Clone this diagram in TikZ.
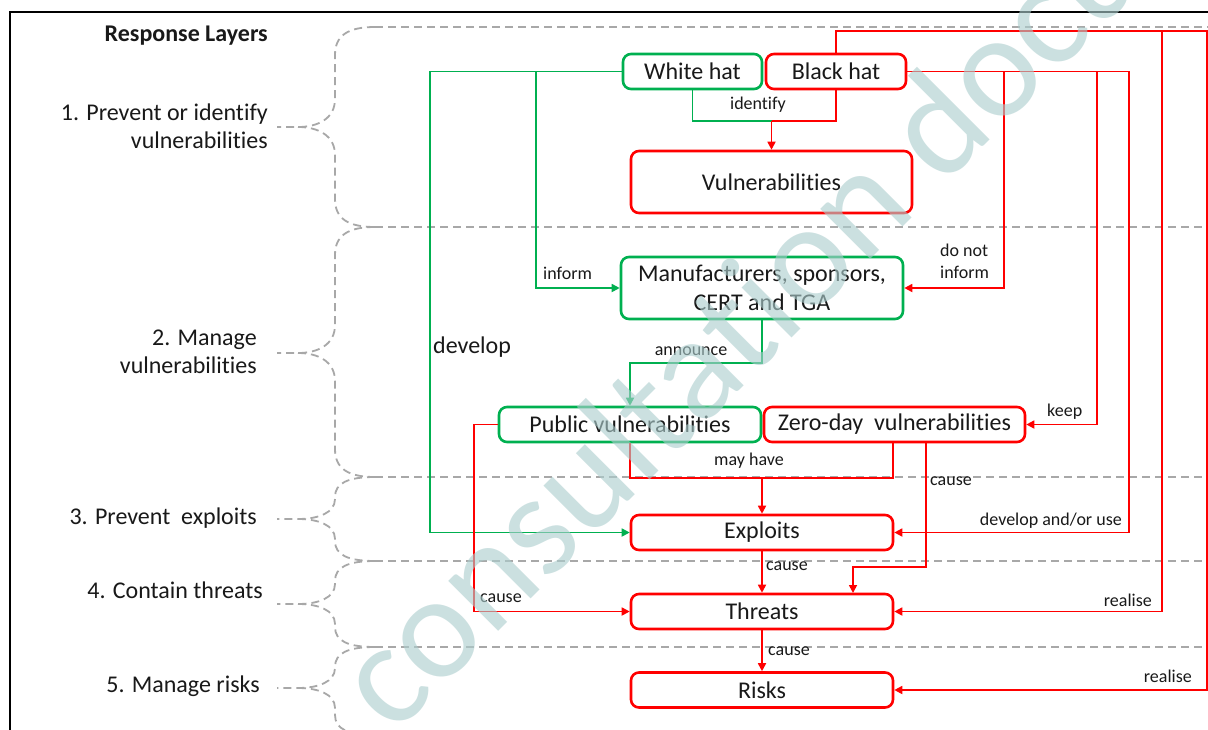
\documentclass[tikz,border=0pt]{standalone}
\usepackage{fontspec}
\setmainfont{Carlito}[Ligatures=NoCommon]
\usetikzlibrary{arrows.meta,calc}
\definecolor{gr}{RGB}{0,176,80}
\definecolor{rd}{RGB}{255,0,0}
\definecolor{dg}{RGB}{168,168,168}
\definecolor{wm}{RGB}{172,206,206}
\definecolor{tx}{RGB}{25,25,25}
\begin{document}
\begin{tikzpicture}[x=1pt,y=-1pt,
  box/.style={draw, line width=2.6pt, rounded corners=8pt, inner sep=0pt, align=center,
    font=\fontsize{24}{29}\selectfont, text=tx},
  gbox/.style={box, draw=gr},
  rbox/.style={box, draw=rd},
  gl/.style={draw=gr, line width=1.7pt},
  rl/.style={draw=rd, line width=1.7pt},
  arr/.style={-{Triangle[length=8pt,width=8pt]}},
  lab/.style={font=\fontsize{18}{22}\selectfont, inner sep=0pt, text=tx},
  side/.style={font=\fontsize{24}{28}\selectfont, align=right, inner sep=0pt, text=tx},
  sep/.style={draw=dg, line width=1.8pt, dash pattern=on 8pt off 5pt},
]
\clip (0,0) rectangle (1208,729);
\fill[white] (0,0) rectangle (1208,729);

% frame
\draw[line width=2.6pt, black] (10,735) -- (10,12) -- (1212,12);

% layer separators
\foreach \yy in {27,227,477,561,647} {
  \draw[sep] (375,\yy) -- (1210,\yy);
}
% braces
\foreach \ya/\ym/\yb/\r in {27/127/227/28, 227/353/477/28, 477/519/561/20, 561/604/647/20, 647/688/735/20} {
  \draw[sep] (375,\ya) .. controls (348,\ya) and (335,{\ya+\r*0.3}) .. (335,{\ya+\r})
     -- (335,{\ym-\r}) .. controls (335,{\ym-\r*0.3}) and (318,\ym) .. (298,\ym) -- (277,\ym);
  \draw[sep] (298,\ym) .. controls (318,\ym) and (335,{\ym+\r*0.3}) .. (335,{\ym+\r})
     -- (335,{\yb-\r}) .. controls (335,{\yb-\r*0.3}) and (348,\yb) .. (375,\yb);
}

% side labels
\node[side, anchor=east, font=\fontsize{24}{28}\selectfont\bfseries] (hd) at (268,36) {Response Layers};
\node[side, anchor=east] (l1) at (268,126) {1. Prevent or identify\\vulnerabilities};
\node[side, anchor=east] (l2) at (257,352) {2. Manage\\vulnerabilities};
\node[side, anchor=east] (l3) at (257,518) {3. Prevent\ \ exploits};
\node[side, anchor=east] (l4) at (263,590) {4. Contain threats};
\node[side, anchor=east] (l5) at (260,686) {5. Manage risks};

% boxes
\node[gbox, minimum width=139pt, minimum height=35pt] (wh) at (692.5,71.5) {White hat};
\node[rbox, minimum width=140pt, minimum height=35pt] (bh) at (836,71.5) {Black hat};
\node[rbox, minimum width=281pt, minimum height=62pt] (vu) at (771.5,182) {Vulnerabilities};
\node[gbox, minimum width=282pt, minimum height=62pt] (mf) at (762,288) {Manufacturers, sponsors,\\CERT and TGA};
\node[gbox, minimum width=262pt, minimum height=35pt] (pv) at (630,424.5) {Public vulnerabilities};
\node[rbox, minimum width=261pt, minimum height=35pt] (zd) at (894.5,424.5) {Zero-day\ \ vulnerabilities};
\node[rbox, minimum width=262pt, minimum height=35pt] (ex) at (762,532.5) {Exploits};
\node[rbox, minimum width=262pt, minimum height=35pt] (th) at (762,611.5) {Threats};
\node[rbox, minimum width=262pt, minimum height=35pt] (rk) at (762,690) {Risks};

% junction coordinates
\coordinate (gdev) at (430,71.5);
\coordinate (ginf) at (536,71.5);
\coordinate (idj) at (771.5,121);
\coordinate (anj) at (630,363);
\coordinate (rtop) at (1207,31);
\coordinate (rtop2) at (1162,31);
\coordinate (rdev) at (1129,71.5);
\coordinate (rnot) at (1004,71.5);
\coordinate (rkeep) at (1097,71.5);
\coordinate (mh1) at (893,478);
\coordinate (mh2) at (762,478);
\coordinate (zc1) at (926,443);
\coordinate (zc2) at (853,567);
\coordinate (zc3) at (853,593);

% green connectors
\draw[gl,arr] (wh.west) -- (gdev) |- (ex.west);
\draw[gl,arr] (ginf) |- (mf.west);
\draw[gl] (wh.south) |- (idj);
\draw[gl,arr] (mf.south) |- (anj) -- (pv.north);

% red connectors
\draw[rl] (bh.south) |- (idj);
\draw[rl,arr] (idj) -- (vu.north);
\draw[rl,arr] (bh.north) |- (rtop) |- (rk.east);
\draw[rl,arr] (rtop2) |- (th.east);
\draw[rl,arr] (bh.east) -- (rdev) |- (ex.east);
\draw[rl,arr] (rnot) |- (mf.east);
\draw[rl,arr] (rkeep) |- (zd.east);
\draw[rl] (pv.south) |- (mh1) -- (mh1 |- zd.south);
\draw[rl,arr] (mh2) -- (ex.north);
\draw[rl,arr] (zc1) |- (zc2) -- (zc3);
\draw[rl,arr] (pv.west) -- ++(-24,0) |- (th.west);
\draw[rl,arr] (ex.south) -- (th.north);
\draw[rl,arr] (th.south) -- (rk.north);

% connector labels
\node[lab] (t1) at (758,105) {identify};
\node[lab, anchor=west] (t2) at (543,273) {inform};
\node[lab, anchor=west, align=left] (t3) at (940,261) {do not\\inform};
\node[lab] (t4) at (691,351) {announce};
\node[side, anchor=west] (t5) at (433,347) {develop};
\node[lab, anchor=west] (t6) at (1047,412) {keep};
\node[lab] (t7) at (749,461) {may have};
\node[lab, anchor=west] (t8) at (930,481) {cause};
\node[lab, anchor=east] (t9) at (1122,521) {develop and/or use};
\node[lab, anchor=west] (t10) at (766,566) {cause};
\node[lab, anchor=west] (t11) at (480,598) {cause};
\node[lab, anchor=east] (t12) at (1152,600) {realise};
\node[lab, anchor=west] (t13) at (768,651) {cause};
\node[lab, anchor=east] (t14) at (1192,676) {realise};

% watermark
\node[rotate=45, anchor=base west, inner sep=0pt, text=wm, opacity=0.62,
  font=\fontsize{148}{148}\selectfont] (wmk) at (393,737) {consultation docu};
\end{tikzpicture}
\end{document}
